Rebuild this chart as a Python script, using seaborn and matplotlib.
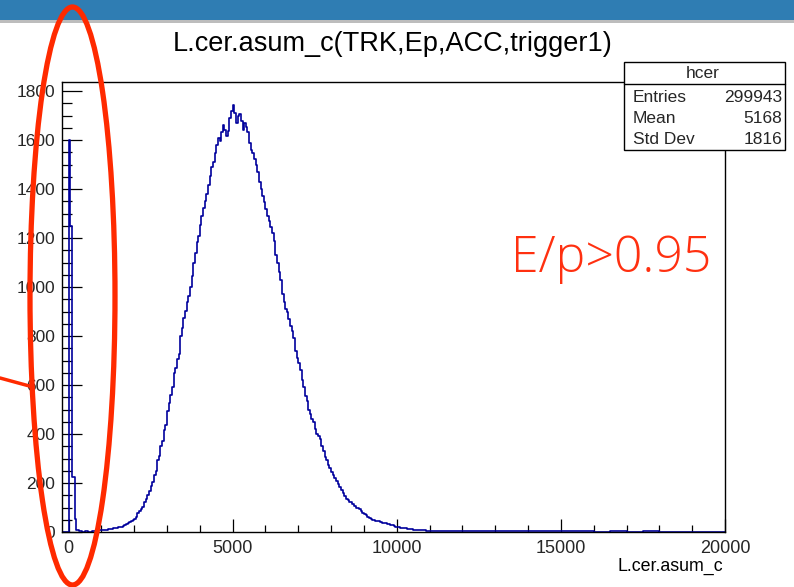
import numpy as np
import pandas as pd
import matplotlib
matplotlib.use("Agg")
import matplotlib.pyplot as plt
from matplotlib.patches import Ellipse, Rectangle
from matplotlib.lines import Line2D
from matplotlib.ticker import MultipleLocator
import seaborn as sns

# ---------------- data ----------------
title = "L.cer.asum_c(TRK,Ep,ACC,trigger1)"
x_label = "L.cer.asum_c"
stats_name = "hcer"
stats_labels = ["Entries", "Mean", "Std Dev"]
stats_values = ["299943", "5168", "1816"]
annotation = "E/p>0.95"

# pedestal spike near zero (irregular bins)
spike_edges = [-200, 0, 50, 110, 190, 240, 330, 400]
spike_counts = [0, 1600, 1250, 224, 53, 10, 4]

# low region, bins of 100 from 400 to 1000
low_edges = list(range(400, 1001, 100))
low_counts = [2, 3, 2, 4, 5, 7]

# main peak, bins of 50 from 1000 to 10000
main_edges = list(range(1000, 10001, 50))
main_counts = [
    8, 9, 10, 10, 11, 12, 13, 15, 16, 17,
    19, 21, 22, 25, 28, 31, 35, 39, 45, 49,
    55, 63, 76, 84, 94, 101, 122, 133, 151, 166,
    188, 205, 232, 251, 292, 311, 352, 370, 418, 436,
    495, 528, 560, 592, 648, 668, 705, 728, 800, 832,
    872, 901, 938, 965, 1000, 1046, 1100, 1138, 1184, 1208,
    1255, 1290, 1322, 1350, 1380, 1415, 1455, 1488, 1512, 1548,
    1580, 1608, 1598, 1632, 1660, 1640, 1615, 1638, 1690, 1718,
    1742, 1712, 1668, 1700, 1706, 1676, 1640, 1668, 1655, 1632,
    1590, 1560, 1548, 1522, 1498, 1470, 1430, 1402, 1372, 1346,
    1320, 1290, 1268, 1245, 1222, 1188, 1130, 1098, 1060, 1030,
    972, 940, 912, 898, 868, 842, 820, 790, 740, 710,
    690, 660, 620, 592, 555, 535, 500, 480, 462, 448,
    420, 402, 392, 378, 350, 330, 306, 294, 275, 260,
    245, 231, 222, 210, 194, 182, 170, 160, 148, 136,
    130, 124, 121, 115, 108, 100, 99, 95, 84, 78,
    74, 68, 61, 57, 55, 51, 48, 44, 45, 43,
    40, 38, 38, 36, 33, 31, 30, 27, 24, 22,
]

# falling edge, bins of 100 from 10000 to 11000
high_edges = list(range(10000, 11001, 100))
high_counts = [20, 17, 15, 12, 11, 10, 9, 8, 7, 6]

# long tail, bins of 500 from 11000 to 20000
tail_edges = list(range(11000, 20001, 500))
tail_counts = [5, 5, 4, 5, 4, 3, 4, 3, 3, 3, 2, 3, 2, 3, 2, 2, 2, 2]

edges = [float(e) for e in spike_edges[:-1] + low_edges[:-1] + main_edges[:-1]
         + high_edges[:-1] + tail_edges]
counts = [float(c) for c in spike_counts + low_counts + main_counts
          + high_counts + tail_counts]
assert len(edges) == len(counts) + 1
centers = [(a + b) / 2 for a, b in zip(edges[:-1], edges[1:])]
df = pd.DataFrame({"x": centers, "w": counts})

# ---------------- figure ----------------
sns.set_style("white")
plt.rcParams["font.family"] = ["Liberation Sans", "DejaVu Sans"]

W, H = 794, 587
fig = plt.figure(figsize=(W / 100, H / 100), dpi=100)
fig.patch.set_facecolor("white")

def fx(px):
    return px / W

def fy(py):
    return 1 - py / H

# top window bar
fig.add_artist(Rectangle((0, fy(20)), 1, 20 / H, transform=fig.transFigure,
                         facecolor="#2f7db3", edgecolor="none", zorder=0))
fig.add_artist(Rectangle((0, fy(23)), 1, 3 / H, transform=fig.transFigure,
                         facecolor="#bdbdbd", edgecolor="none", zorder=0))

ax_l, ax_r, ax_t, ax_b = 62, 725, 82, 532
ax = fig.add_axes([fx(ax_l), fy(ax_b), (ax_r - ax_l) / W, (ax_b - ax_t) / H])

sns.histplot(data=df, x="x", weights="w", bins=edges, element="step",
             fill=False, color="#00009c", linewidth=1.2, ax=ax)

ax.set_xlim(-200, 20000)
ax.set_ylim(0, 1837)
ax.set_xlabel("")
ax.set_ylabel("")
for s in ax.spines.values():
    s.set_color("black")
    s.set_linewidth(1.0)
    s.set_visible(True)

ax.xaxis.set_major_locator(MultipleLocator(5000))
ax.xaxis.set_minor_locator(MultipleLocator(1000))
ax.yaxis.set_major_locator(MultipleLocator(200))
ax.yaxis.set_minor_locator(MultipleLocator(50))
ax.tick_params(axis="x", which="major", direction="in", length=9.4, width=0.9,
               labelsize=13, pad=6, top=False, bottom=True, color="black")
ax.tick_params(axis="x", which="minor", direction="in", length=5, width=0.9,
               top=False, bottom=True, color="black")
ax.tick_params(axis="y", which="major", direction="in", length=14.4, width=0.9,
               labelsize=12.5, pad=5, left=True, right=False, color="black")
ax.tick_params(axis="y", which="minor", direction="in", length=7.2, width=0.9,
               left=True, right=False, color="black")
ax.grid(False)

# title
fig.text(fx(393), fy(44), title, ha="center", va="center", fontsize=19.5,
         color="black")
# x axis label
fig.text(fx(723), fy(566), x_label, ha="right", va="center", fontsize=12.8,
         color="black")

# stats box
bx0, bx1, by0, by1, bsep = 624, 785, 62, 150, 84
fig.add_artist(Rectangle((fx(bx0), fy(by1)), (bx1 - bx0) / W, (by1 - by0) / H,
                         transform=fig.transFigure, facecolor="white",
                         edgecolor="black", linewidth=1.0, zorder=5))
fig.add_artist(Line2D([fx(bx0), fx(bx1)], [fy(bsep), fy(bsep)],
                      transform=fig.transFigure, color="black", linewidth=1.0,
                      zorder=6))
fig.text(fx(703), fy(74), stats_name, ha="center", va="center", fontsize=12.5,
         zorder=7)
for i, (lab, val) in enumerate(zip(stats_labels, stats_values)):
    yy = 97 + i * 21.5
    fig.text(fx(633), fy(yy), lab, ha="left", va="center", fontsize=12.5, zorder=7)
    fig.text(fx(782), fy(yy), val, ha="right", va="center", fontsize=12.5, zorder=7)

# red annotations
red = "#ff2a00"
fig.add_artist(Ellipse((fx(72.5), fy(296)), 85 / W, 578 / H,
                       transform=fig.transFigure, fill=False, edgecolor=red,
                       linewidth=3.8, zorder=10))
fig.add_artist(Line2D([fx(0), fx(33)], [fy(378), fy(387)],
                      transform=fig.transFigure, color=red, linewidth=2.5,
                      zorder=10))
fig.text(fx(511), fy(272), annotation, ha="left", va="baseline", fontsize=36,
         color="#ff3010", family=["Open Sans", "DejaVu Sans"], fontweight="light",
         zorder=10)

fig.savefig("out.png", dpi=100, facecolor="white")
